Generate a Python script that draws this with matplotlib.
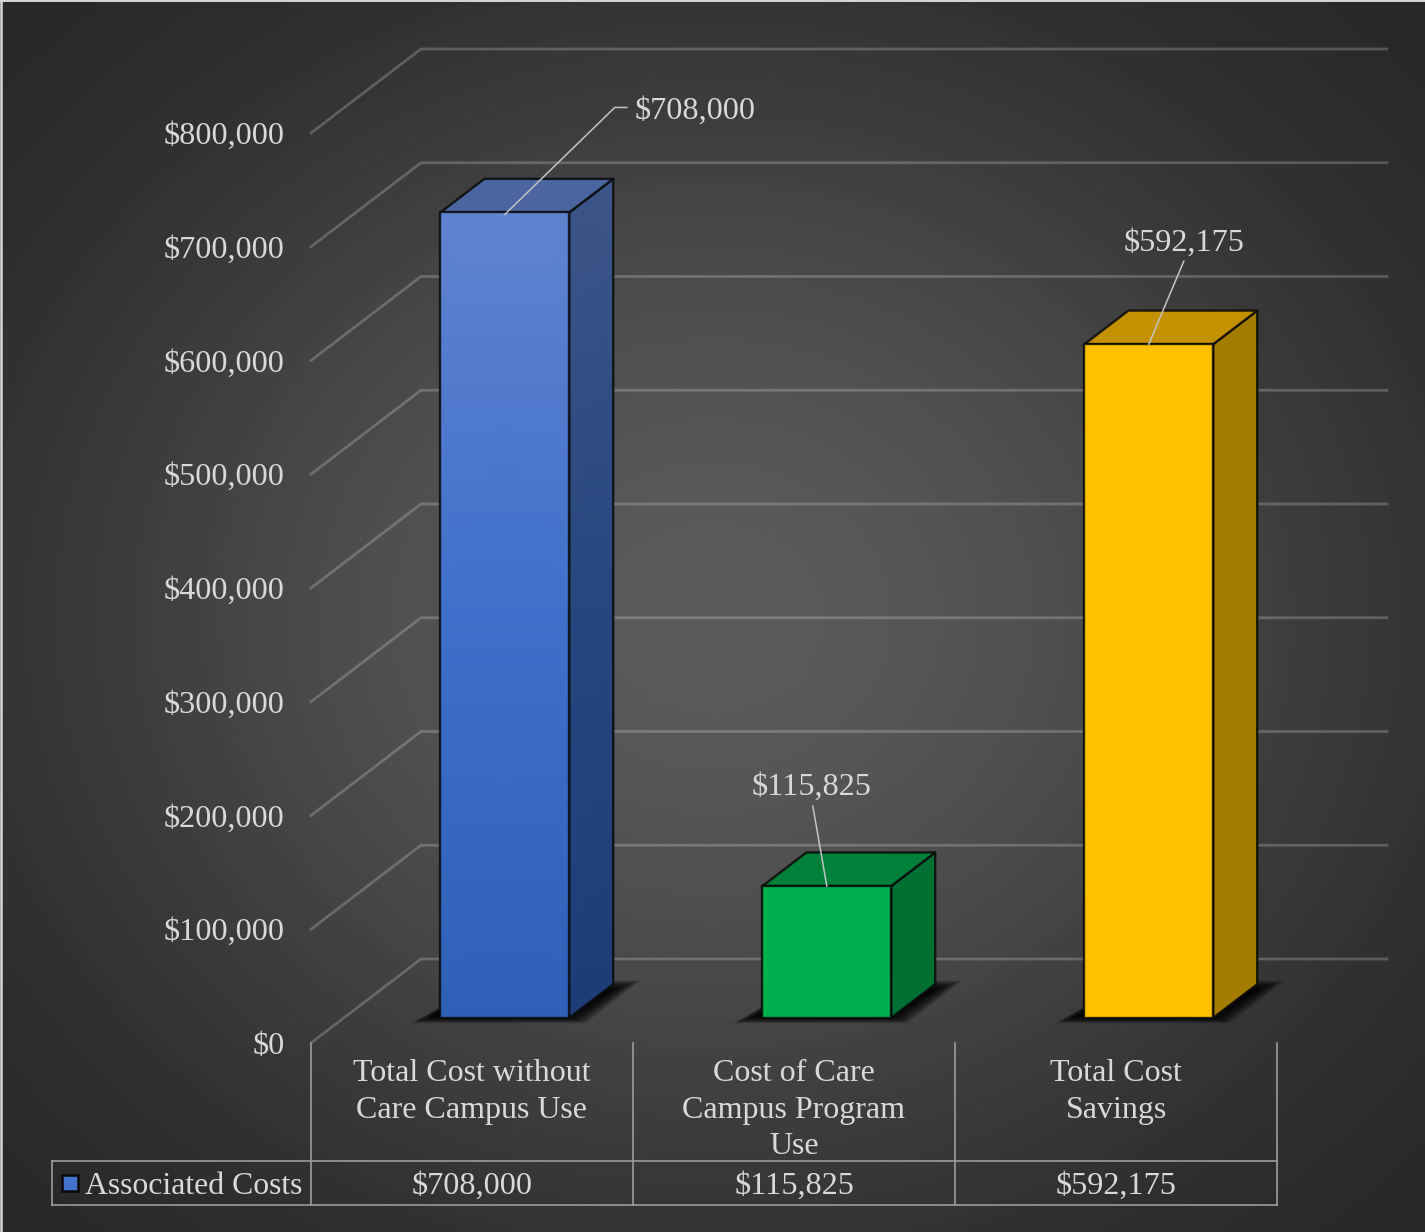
#!/usr/bin/env python3
"""Associated costs: fake-3D column chart with a data table, drawn on a dark radial background."""

import numpy as np
import matplotlib
matplotlib.use("Agg")
import matplotlib.pyplot as plt
from matplotlib.colors import LinearSegmentedColormap
from matplotlib.patches import Polygon, Rectangle

plt.rcParams["font.family"] = ["Liberation Serif", "DejaVu Serif"]

# --- data ---------------------------------------------------------------
categories = ["Total Cost without\nCare Campus Use",
              "Cost of Care\nCampus Program\nUse",
              "Total Cost\nSavings"]
values = [708000, 115825, 592175]
value_labels = ["$708,000", "$115,825", "$592,175"]
series_name = "Associated Costs"
y_ticks = [0, 100000, 200000, 300000, 400000, 500000, 600000, 700000, 800000]
y_labels = ["$0", "$100,000", "$200,000", "$300,000", "$400,000",
            "$500,000", "$600,000", "$700,000", "$800,000"]

# --- style --------------------------------------------------------------
W, H = 1425, 1232
LEFT, RIGHT, BASE, TOP = 311, 1277, 1043, 133   # front plane in pixels
TEXT = "#d9d9d9"
FONT_NUM = 23.2
FONT_TEXT = 23.05
BAR_WIDTH = 0.4

front_colors = [["#6083cf", "#3e70cb", "#2e60b8"], ["#00b04f"], ["#ffc000"]]
side_colors = [["#3c5588", "#27477f", "#1e3d78"], ["#006f32"], ["#a47c00"]]
top_colors = ["#4a659f", "#008038", "#c49200"]

# where each value label sits relative to the top of its bar, in pixels
label_offsets = [(130, 105), (-15, 102.5), (35, 104.5)]
label_anchor = ["left", "center", "center"]
leader_points = [[(0, -2), (110, 105), (122, 105)], [(0, 0), (-14, 80)], [(0, 0), (35, 83)]]

# pixel -> data conversions for the front plane
px_x = 3 / (RIGHT - LEFT)
px_y = 800000 / (BASE - TOP)
DEPTH_X, DEPTH_Y = 110 * px_x, 84 * px_y   # full floor depth in data units


def below(px):
    """Data y for a point px pixels under the $0 line (table area)."""
    return -px * px_y


def add_gradient_face(ax, xs, ys, colors, zorder):
    """Fill a quad (bl, br, tr, tl) going from colors[0] at the top to colors[-1] at the bottom."""
    t = np.linspace(0, 1, len(colors))[:, None]
    X = np.column_stack(((1 - t) * xs[3] + t * xs[0], (1 - t) * xs[2] + t * xs[1]))
    Y = np.column_stack(((1 - t) * ys[3] + t * ys[0], (1 - t) * ys[2] + t * ys[1]))
    C = np.repeat(t, 2, axis=1)
    cmap = LinearSegmentedColormap.from_list("face", colors, N=256)
    return ax.pcolormesh(X, Y, C, cmap=cmap, vmin=0, vmax=1, shading="gouraud",
                         zorder=zorder, clip_on=False)


def add_face(ax, xs, ys, colors, zorder):
    if isinstance(colors, str) or len(colors) == 1:
        color = colors if isinstance(colors, str) else colors[0]
        ax.add_patch(Polygon(np.column_stack((xs, ys)), closed=True, facecolor=color,
                             edgecolor="none", zorder=zorder, clip_on=False))
    else:
        add_gradient_face(ax, xs, ys, colors, zorder)
    ax.add_patch(Polygon(np.column_stack((xs, ys)), closed=True, fill=False, edgecolor="#0a0a0a",
                         linewidth=1.7, joinstyle="round", alpha=0.85,
                         zorder=zorder + 0.2, clip_on=False))


fig = plt.figure(figsize=(W / 100, H / 100), dpi=100)

# background
bg = fig.add_axes([0, 0, 1, 1], zorder=0)
bg.axis("off")
yy, xx = np.mgrid[0:H, 0:W]
dist = np.hypot((xx - W / 2) / (W / 2), (yy - H / 2) / (H / 2))
falloff = (1 + np.cos(np.pi * np.clip(dist / 1.41, 0, 1))) / 2
shade = (0x29 + (0x5a - 0x29) * falloff ** 0.9) / 255
bg.imshow(shade, cmap="gray", vmin=0, vmax=1, aspect="auto", interpolation="nearest")
# thin light edge along the top and left of the picture
bg.plot([0, 0], [0, H], color="#d8d8d8", linewidth=1.8, clip_on=True)
bg.plot([0, W], [0, 0], color="#d8d8d8", linewidth=1.4, clip_on=True)
bg.set_xlim(-0.5, W - 0.5)
bg.set_ylim(H - 0.5, -0.5)

ax = fig.add_axes([LEFT / W, (H - BASE) / H, (RIGHT - LEFT) / W, (BASE - TOP) / H], zorder=1)
ax.patch.set_visible(False)
for spine in ax.spines.values():
    spine.set_visible(False)
ax.set_xlim(0, 3)
ax.set_ylim(0, 800000)

# y axis labels and category labels are the real tick labels
ax.set_yticks(y_ticks, y_labels)
ax.set_xticks([0.5, 1.5, 2.5], categories)
ax.tick_params(axis="y", length=0, pad=19, labelsize=FONT_NUM, labelcolor=TEXT)
ax.tick_params(axis="x", length=0, pad=11.5, labelsize=FONT_TEXT, labelcolor=TEXT)
for tick_label in ax.get_xticklabels():
    tick_label.set_linespacing(1.35)

# walls: diagonal along the left side, then horizontal along the back
for tick in y_ticks:
    ax.plot([0, DEPTH_X, 3 + DEPTH_X], [tick, tick + DEPTH_Y, tick + DEPTH_Y],
            color="white", alpha=0.21, linewidth=2.0, solid_joinstyle="miter",
            clip_on=False, zorder=1)

# columns sit part way into the floor
front_dx, front_dy = 32.8 * px_x, 0.3 * DEPTH_Y
bar_dx, bar_dy = 0.4 * DEPTH_X, 0.4 * DEPTH_Y

for i, value in enumerate(values):
    x0 = i + 0.5 - BAR_WIDTH / 2 + front_dx
    x1 = x0 + BAR_WIDTH
    y0 = front_dy
    y1 = value + front_dy

    # soft floor shadow, stacked translucent polygons
    steps = 40
    for k in range(steps):
        e = 10 - 30 * k / steps   # shrinks with k, so the middle ends up darkest
        shadow = [(x0 + (-18 - 1.2 * e) * px_x, y0 + (-2 - 0.35 * e) * px_y),
                  (x1 + (8 + 0.9 * e) * px_x, y0 + (-2 - 0.35 * e) * px_y),
                  (x1 + (58 + 1.4 * e) * px_x, y0 + (33 + 0.45 * e) * px_y),
                  (x0 + (38 + e) * px_x, y0 + (33 + 0.45 * e) * px_y)]
        ax.add_patch(Polygon(shadow, closed=True, facecolor="black", edgecolor="none",
                             alpha=0.06, zorder=2, clip_on=False))

    add_face(ax, [x1, x1 + bar_dx, x1 + bar_dx, x1], [y0, y0 + bar_dy, y1 + bar_dy, y1],
             side_colors[i], 3)
    add_face(ax, [x0, x1, x1 + bar_dx, x0 + bar_dx], [y1, y1, y1 + bar_dy, y1 + bar_dy],
             top_colors[i], 3.5)
    add_face(ax, [x0, x1, x1, x0], [y0, y0, y1, y1], front_colors[i], 4)

    # value label with its leader line
    cx = i + 0.5 + front_dx
    pts = np.array(leader_points[i], dtype=float)
    ax.plot(cx + pts[:, 0] * px_x, y1 + pts[:, 1] * px_y, color="#c4c4c4", linewidth=1.1,
            solid_joinstyle="miter", clip_on=False, zorder=6)
    ox, oy = label_offsets[i]
    ax.text(cx + ox * px_x, y1 + oy * px_y, value_labels[i], color=TEXT, fontsize=FONT_NUM,
            ha=label_anchor[i], va="center_baseline", zorder=7, clip_on=False)

# data table
TABLE_MID, TABLE_BOT, TABLE_LEFT = below(118), below(162), (52 - LEFT) * px_x
table_line = dict(color="#9c9c9c", linewidth=1.2, clip_on=False, zorder=5, solid_capstyle="projecting")
for edge in range(4):
    ax.plot([edge, edge], [0, TABLE_BOT], **table_line)
ax.plot([TABLE_LEFT, 3], [TABLE_MID, TABLE_MID], **table_line)
ax.plot([TABLE_LEFT, 3], [TABLE_BOT, TABLE_BOT], **table_line)
ax.plot([TABLE_LEFT, TABLE_LEFT], [TABLE_MID, TABLE_BOT], **table_line)

table_y = below(140)
for i, label in enumerate(value_labels):
    ax.text(i + 0.5, table_y, label, color=TEXT, fontsize=FONT_NUM, ha="center", va="center_baseline",
            clip_on=False)
ax.text((85 - LEFT) * px_x, table_y, series_name, color=TEXT, fontsize=22.85, ha="left",
        va="center_baseline", clip_on=False)
ax.add_patch(Rectangle(((62 - LEFT) * px_x, below(148)), 16 * px_x, 16 * px_y,
                       facecolor="#4272cc", edgecolor="#0a0a0a", linewidth=1.8,
                       clip_on=False, zorder=5))

fig.savefig("out.png", dpi=100)
